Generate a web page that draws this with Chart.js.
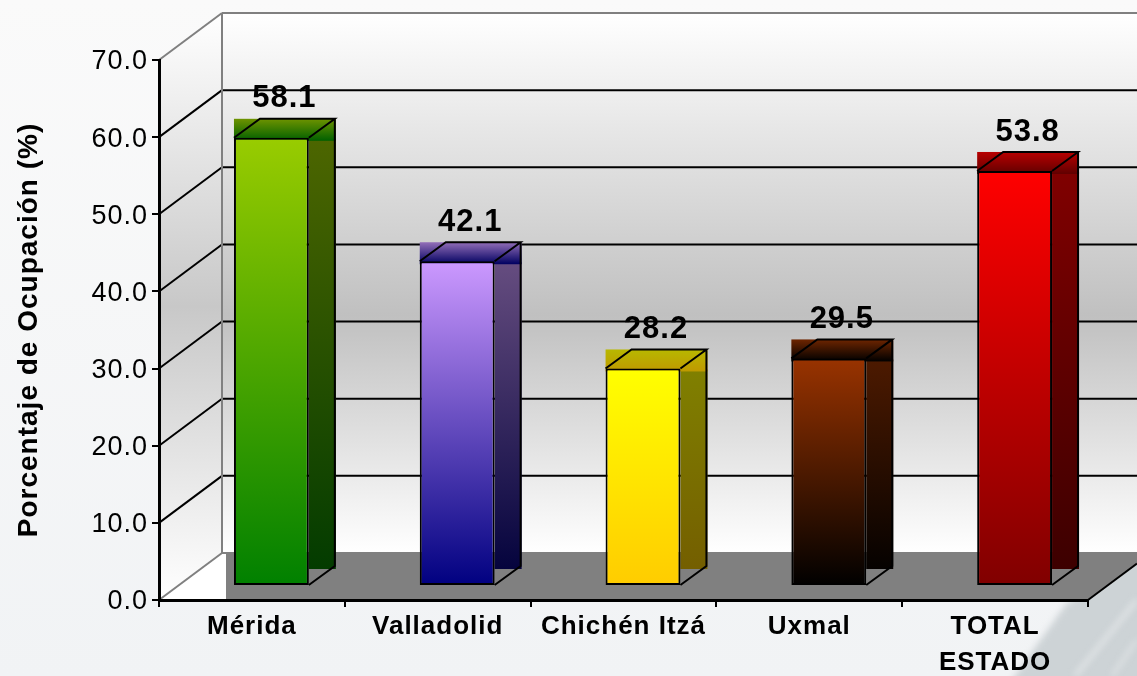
<!DOCTYPE html>
<html>
<head>
<meta charset="utf-8">
<style>
html,body{margin:0;padding:0;background:#f5f6f7;overflow:hidden}
canvas{display:block}
</style>
<script src="https://cdn.jsdelivr.net/npm/chart.js@4"></script>
</head>
<body>
<canvas id="c" width="1137" height="676"></canvas>
<script>
const categories = ['Mérida','Valladolid','Chichén Itzá','Uxmal',['TOTAL','ESTADO']];
const values = [58.1,42.1,28.2,29.5,53.8];
const topColors = [[153,204,0],[204,153,255],[255,255,0],[153,51,0],[255,0,0]];
const bottomColors = [[0,128,0],[0,0,128],[255,204,0],[0,0,0],[128,0,0]];
const yTitle = 'Porcentaje de Ocupación (%)';

const WALL_DX = 63, WALL_DY = 47;      // depth of the chart box
const BAR_DX = 19.5, BAR_DY = 14;      // bars stand part-way into the box
const SIDE_DX = 26, SIDE_DY = 19;      // depth of each bar

function rgb(c, k){ return `rgb(${Math.round(c[0]*k)},${Math.round(c[1]*k)},${Math.round(c[2]*k)})`; }
function vGrad(ctx, y0, y1, c0, c1){
  const g = ctx.createLinearGradient(0,y0,0,y1);
  g.addColorStop(0,c0); g.addColorStop(1,c1); return g;
}
function line(ctx, x0,y0,x1,y1,color,w){
  ctx.strokeStyle=color; ctx.lineWidth=w; ctx.beginPath(); ctx.moveTo(x0,y0); ctx.lineTo(x1,y1); ctx.stroke();
}

const box3d = {
  id:'box3d',
  beforeDraw(chart){
    const ctx = chart.ctx, W = chart.width, H = chart.height;
    const {left,right,top,bottom} = chart.chartArea, ys = chart.scales.y;
    ctx.letterSpacing = '1px';
    // page background
    ctx.fillStyle = vGrad(ctx,0,H,'#fafafa','#f1f3f5');
    ctx.fillRect(0,0,W,H);
    ctx.save();
    ctx.filter='blur(3px)';
    ctx.fillStyle='#cdd3d6';
    ctx.beginPath();
    ctx.moveTo(1066,604);ctx.lineTo(1100,585);ctx.lineTo(1150,545);ctx.lineTo(1150,690);ctx.lineTo(1005,690);ctx.closePath();ctx.fill();
    line(ctx,1075,676,1137,600,'#dfe3e5',5);
    line(ctx,1112,676,1137,640,'#dde1e3',4);
    ctx.restore();
    // walls
    const bTop = top-WALL_DY, bBot = bottom-WALL_DY, bLeft = left+WALL_DX;
    const wall = vGrad(ctx,bTop,bBot,'#ffffff','#ffffff');
    wall.addColorStop(0.56,'#c0c0c0');
    ctx.fillStyle = wall;
    ctx.fillRect(bLeft,bTop,W-bLeft,bBot-bTop);
    const side = vGrad(ctx,bTop,bottom,'#ffffff','#ffffff');
    side.addColorStop(0.5,'#c8c8c8');
    ctx.fillStyle = side;
    ctx.beginPath();ctx.moveTo(left,top);ctx.lineTo(bLeft,bTop);ctx.lineTo(bLeft,bBot);ctx.lineTo(left,bottom);ctx.closePath();ctx.fill();
    // floor
    ctx.fillStyle='#ffffff';
    ctx.beginPath();ctx.moveTo(left,bottom);ctx.lineTo(bLeft,bBot);ctx.lineTo(bLeft+4,bBot);ctx.lineTo(bLeft+4,bottom);ctx.closePath();ctx.fill();
    ctx.fillStyle='#808080';
    ctx.beginPath();ctx.moveTo(bLeft+4,bBot);ctx.lineTo(W,bBot);ctx.lineTo(W,bottom-(W-right)*WALL_DY/WALL_DX);ctx.lineTo(right,bottom);ctx.lineTo(bLeft+4,bottom);ctx.closePath();ctx.fill();
    // grid on the walls
    ys.ticks.forEach(t=>{
      const y = ys.getPixelForValue(t.value);
      const inner = t.value>0 && t.value<70;
      const col = inner ? '#000000' : '#808080';
      line(ctx,left,y,bLeft,y-WALL_DY,col,2);
      line(ctx,bLeft,y-WALL_DY,W,y-WALL_DY,col,2);
    });
    line(ctx,bLeft,bTop,bLeft,bBot,'#808080',2);
    line(ctx,right,bottom,W,bottom-(W-right)*WALL_DY/WALL_DX,'#000000',2);
  },
  beforeDatasetsDraw(chart){
    const ctx = chart.ctx;
    chart.getDatasetMeta(0).data.forEach((bar,i)=>{
      const hw = bar.width/2, x0 = bar.x-hw+BAR_DX, x1 = bar.x+hw+BAR_DX;
      const yt = bar.y-BAR_DY, yb = bar.base-BAR_DY;
      const tc = topColors[i], bc = bottomColors[i];
      // side face
      ctx.fillStyle = vGrad(ctx,yt,yb,rgb(tc,0.5),rgb(bc,0.45));
      ctx.fillRect(x1,yt-SIDE_DY+20,SIDE_DX+1,yb-yt-17);
      // top face gradient box
      ctx.fillStyle = vGrad(ctx,yt-SIDE_DY,yt+3,rgb(tc,0.72),rgb(bc,0.75));
      ctx.fillRect(x0,yt-SIDE_DY,x1-x0+SIDE_DX+1,SIDE_DY+3);
      // outlines
      ctx.strokeStyle='#000'; ctx.lineWidth=2; ctx.lineJoin='miter';
      ctx.beginPath();
      ctx.moveTo(x0,yt);ctx.lineTo(x0+SIDE_DX,yt-SIDE_DY);ctx.lineTo(x1+SIDE_DX,yt-SIDE_DY);ctx.lineTo(x1,yt);
      ctx.moveTo(x1+SIDE_DX,yt-SIDE_DY);ctx.lineTo(x1+SIDE_DX,yb-SIDE_DY);ctx.lineTo(x1,yb);
      ctx.stroke();
    });
    ctx.save();
    ctx.translate(BAR_DX,-BAR_DY);
  },
  afterDatasetsDraw(chart){
    const ctx = chart.ctx;
    ctx.restore();
    ctx.save();
    ctx.font='bold 31px "Liberation Sans", Arial, sans-serif';
    ctx.fillStyle='#000'; ctx.textAlign='center'; ctx.textBaseline='middle';
    chart.getDatasetMeta(0).data.forEach((bar,i)=>{
      ctx.fillText(values[i].toFixed(1), bar.x+BAR_DX+SIDE_DX/2, bar.y-BAR_DY-SIDE_DY-20);
    });
    ctx.restore();
  }
};

new Chart(document.getElementById('c'),{
  type:'bar',
  data:{
    labels:categories,
    datasets:[{
      data:values,
      backgroundColor(ctx){
        const el = ctx.element, i = ctx.dataIndex;
        const chart = ctx.chart;
        if(!chart.chartArea) return rgb(topColors[i],1);
        const ys = chart.scales.y;
        return vGrad(chart.ctx, ys.getPixelForValue(values[i]), ys.getPixelForValue(0), rgb(topColors[i],1), rgb(bottomColors[i],1));
      },
      borderColor:'#000000',
      borderWidth:2,
      borderSkipped:false,
      categoryPercentage:0.403,
      barPercentage:1
    }]
  },
  plugins:[box3d],
  options:{
    responsive:false,
    animation:false,
    events:[],
    layout:{padding:{top:60,right:49,left:0,bottom:0}},
    plugins:{legend:{display:false},tooltip:{enabled:false},title:{display:false}},
    scales:{
      x:{
        offset:true,
        grid:{drawOnChartArea:false,offset:true,color:'#000',lineWidth:2,tickLength:7,tickColor:'#000'},
        border:{color:'#000',width:3},
        ticks:{color:'#000',autoSkip:false,maxRotation:0,minRotation:0,padding:2,
          font:{family:'"Liberation Sans", Arial, sans-serif',size:26,weight:'bold',lineHeight:1.38}},
        afterFit(s){s.height=76;}
      },
      y:{
        min:0,max:70,
        grid:{drawOnChartArea:false,color:'#000',lineWidth:2,tickLength:7,tickColor:'#000'},
        border:{color:'#000',width:3},
        ticks:{stepSize:10,color:'#000',padding:4,labelOffset:2,
          font:{family:'"Liberation Sans", Arial, sans-serif',size:27},
          callback:v=>v.toFixed(1)},
        title:{display:true,text:yTitle,color:'#000',padding:{top:12,bottom:0},
          font:{family:'"Liberation Sans", Arial, sans-serif',size:28,weight:'bold'}},
        afterFit(s){s.width=159;}
      }
    }
  }
});
</script>
</body>
</html>
